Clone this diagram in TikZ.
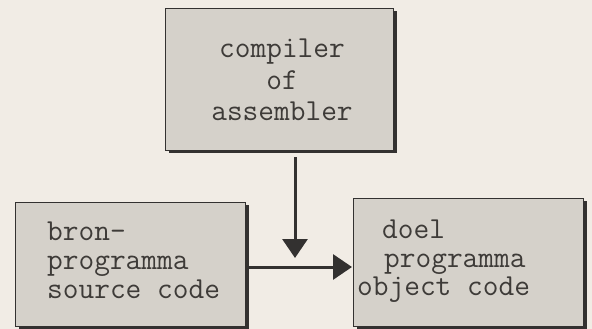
\documentclass[tikz,border=0pt]{standalone}
\usepackage{fontspec}
\usetikzlibrary{arrows.meta,shadows}
\definecolor{paper}{HTML}{F1ECE5}
\definecolor{boxfill}{HTML}{D5D1CA}
\definecolor{ink}{HTML}{333130}
\definecolor{txt}{HTML}{3E3B38}
\tikzset{
  box/.style={draw=ink, line width=1.4pt, fill=boxfill, inner sep=0pt,
    drop shadow={shadow xshift=3pt, shadow yshift=-2pt, fill=ink, opacity=1}},
  lbl/.style={font=\ttfamily\fontsize{30.5}{32}\selectfont, text=txt, inner sep=0pt},
  arr/.style={draw=ink, line width=3pt, -{Triangle[length=19pt,width=25pt]}}
}
\begin{document}
\begin{tikzpicture}[x=1pt,y=-1pt]
\useasboundingbox[fill=paper] (0,0) rectangle (592,329);
% boxes
\node[box, minimum width=228pt, minimum height=142pt, anchor=north west] (comp) at (165,8) {};
\node[box, minimum width=230pt, minimum height=124pt, anchor=north west] (src) at (15,202) {};
\node[box, minimum width=230pt, minimum height=128pt, anchor=north west] (obj) at (353,198) {};
% texts
\node[lbl, anchor=base] (c1) at (282,58) {compiler};
\node[lbl, anchor=base] (c2) at (282,89) {of};
\node[lbl, anchor=base] (c3) at (282,121) {assembler};
\node[lbl, anchor=base west] (s1) at (47,240) {bron-};
\node[lbl, anchor=base west] (s2) at (47,269) {programma};
\node[lbl, anchor=base west] (s3) at (47,298) {source code};
\node[lbl, anchor=base west] (o1) at (382,238) {doel};
\node[lbl, anchor=base west] (o2) at (384,267) {programma};
\node[lbl, anchor=base west] (o3) at (357,295) {object code};
% connectors
\coordinate (vtip) at (295,258);
\coordinate (hy) at (0,267);
\draw[arr] (comp.south -| vtip) ++(0,6) -- (vtip);
\draw[arr] (src.east |- hy) ++(2,0) -- ([xshift=-1pt]obj.west |- hy);
\end{tikzpicture}
\end{document}
